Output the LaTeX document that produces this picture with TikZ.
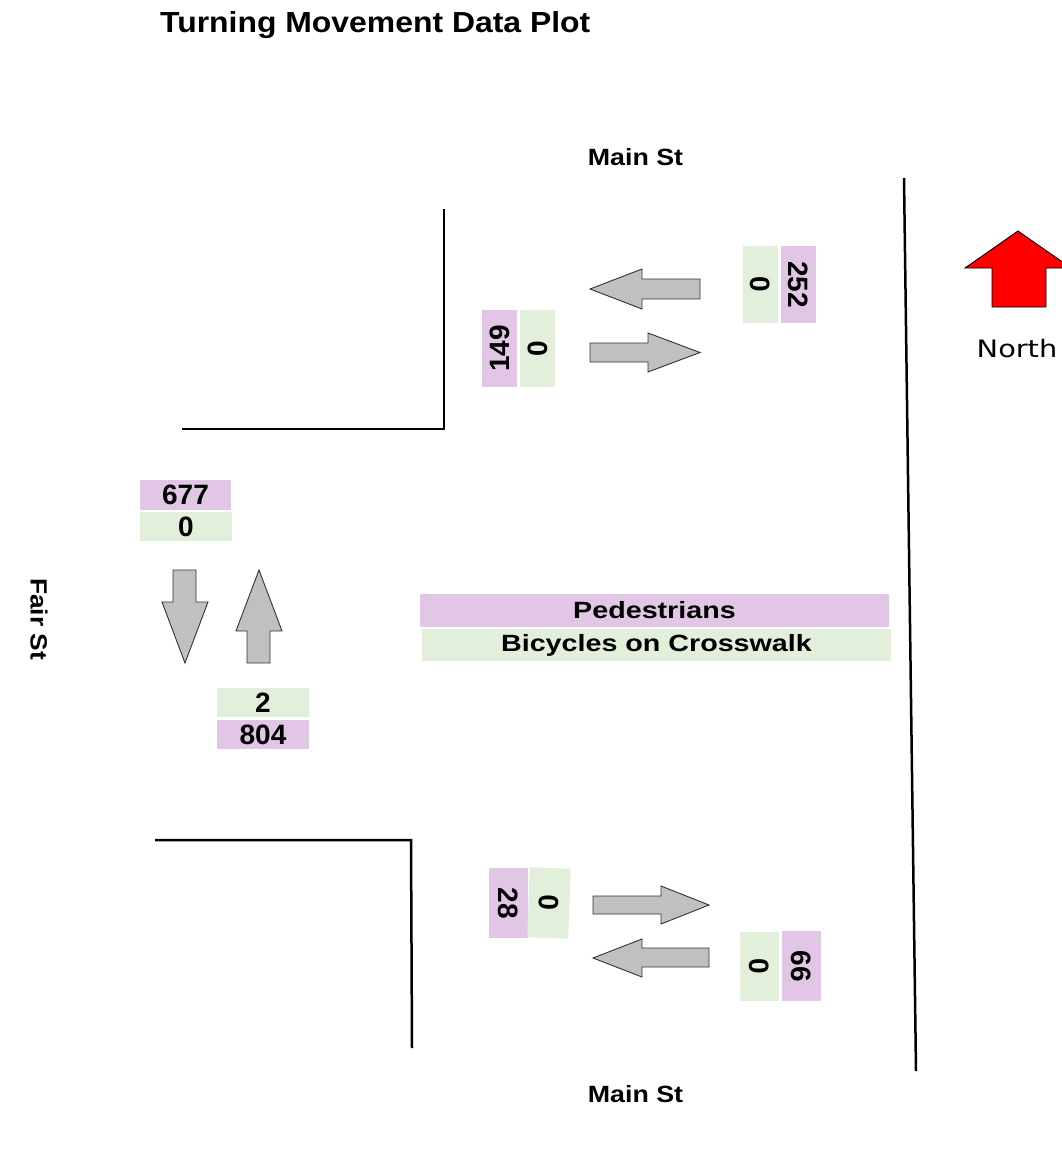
\documentclass[tikz,border=0pt]{standalone}
\usepackage{fontspec}
\usepackage{graphicx}
\setmainfont{Liberation Sans}
\newfontfamily\northfont{DejaVu Sans}
\definecolor{purp}{HTML}{E2C6E6}
\definecolor{grn}{HTML}{E2EFDA}
\definecolor{arrgray}{HTML}{C0C0C0}
\newcommand\wx[2]{\scalebox{#1}[1]{#2}}
\tikzset{
  pbox/.style={fill=purp, inner sep=0pt, font=\bfseries\fontsize{28}{28}\selectfont},
  gbox/.style={fill=grn, inner sep=0pt, font=\bfseries\fontsize{28}{28}\selectfont},
  legp/.style={fill=purp, inner sep=0pt, minimum width=469, minimum height=33, font=\bfseries\fontsize{23.5}{23.5}\selectfont},
  legg/.style={fill=grn, inner sep=0pt, minimum width=469, minimum height=32, font=\bfseries\fontsize{23.5}{23.5}\selectfont},
  street/.style={inner sep=0pt, font=\bfseries\fontsize{23.5}{23.5}\selectfont},
  curb/.style={line width=2.5pt, draw=black},
  flow/.style={fill=arrgray, draw=black!80, line width=0.9pt, line join=miter},
}
\begin{document}
\begin{tikzpicture}[x=1pt, y=-1pt]
\useasboundingbox (0,0) rectangle (1062,1167);
% title
\node[anchor=base west, inner sep=0pt, font=\bfseries\fontsize{29}{29}\selectfont] (title) at (160,32) {\wx{1.1}{Turning Movement Data Plot}};
% street names
\node[street, anchor=base] (mainN) at (635.5,165) {\wx{1.14}{Main St}};
\node[street, anchor=base] (mainS) at (635.5,1102) {\wx{1.14}{Main St}};
\node[street, rotate=-90] (fair) at (39,619) {\wx{1.12}{Fair St}};
% curbs
\draw[curb] (444,209) -- (444,429) -- (182,429);
\draw[curb] (155,840) -- (411,840) -- (412,1048);
\draw[curb] (904,178) -- (916,1071);
% north arrow
\draw[fill=red, draw=black, line width=0.9pt] (1018,231) -- (1071,268) -- (1046,268) -- (1046,307) -- (992,307) -- (992,268) -- (965,268) -- cycle;
\node[anchor=base, inner sep=0pt, font=\northfont\fontsize{24}{24}\selectfont] (north) at (1017,357) {\wx{1.2}{North}};
% east leg (top)
\node[gbox, minimum width=77, minimum height=35, rotate=-90] (eg) at (760.5,284.5) {0};
\node[pbox, minimum width=77, minimum height=35, rotate=-90] (ep) at (798.5,284.5) {252};
\draw[flow] (590,289) -- (642,269) -- (642,279) -- (700,279) -- (700,299) -- (642,299) -- (642,309) -- cycle;
\node[pbox, minimum width=77, minimum height=35, rotate=90] (wp) at (499.5,348.5) {149};
\node[gbox, minimum width=77, minimum height=35, rotate=90] (wg) at (537.5,348.5) {0};
\draw[flow] (590,343) -- (648,343) -- (648,333) -- (700,352.5) -- (648,372) -- (648,362) -- (590,362) -- cycle;
% west leg (Fair St)
\node[pbox, minimum width=91, minimum height=30] (np) at (185.5,495) {677};
\node[gbox, minimum width=92, minimum height=29] (ng) at (186,526.5) {0};
\draw[flow] (173,570) -- (196,570) -- (196,602) -- (208,602) -- (185,663) -- (162,602) -- (173,602) -- cycle;
\draw[flow] (259,570) -- (282,631) -- (270,631) -- (270,663) -- (247,663) -- (247,631) -- (236,631) -- cycle;
\node[gbox, minimum width=92, minimum height=29] (sg) at (263,702.5) {2};
\node[pbox, minimum width=92, minimum height=29] (sp) at (263,734.5) {804};
% legend
\node[legp] (leg1) at (654.5,610.5) {\wx{1.22}{Pedestrians}};
\node[legg] (leg2) at (656.5,645) {\wx{1.22}{Bicycles on Crosswalk}};
% bottom leg
\node[pbox, minimum width=70, minimum height=39, rotate=-90] (bp) at (508.5,903) {28};
\node[gbox, minimum width=70, minimum height=41, rotate=-92] (bg) at (549,903) {0};
\draw[flow] (593,896) -- (661,896) -- (661,886) -- (709,905) -- (661,924) -- (661,914) -- (593,914) -- cycle;
\draw[flow] (593,958) -- (642,939) -- (642,948) -- (709,948) -- (709,967) -- (642,967) -- (642,977) -- cycle;
\node[gbox, minimum width=69, minimum height=39, rotate=-90] (cg) at (759.5,966.5) {0};
\node[pbox, minimum width=70, minimum height=39, rotate=-90] (cp) at (801.5,966) {66};
\end{tikzpicture}
\end{document}
